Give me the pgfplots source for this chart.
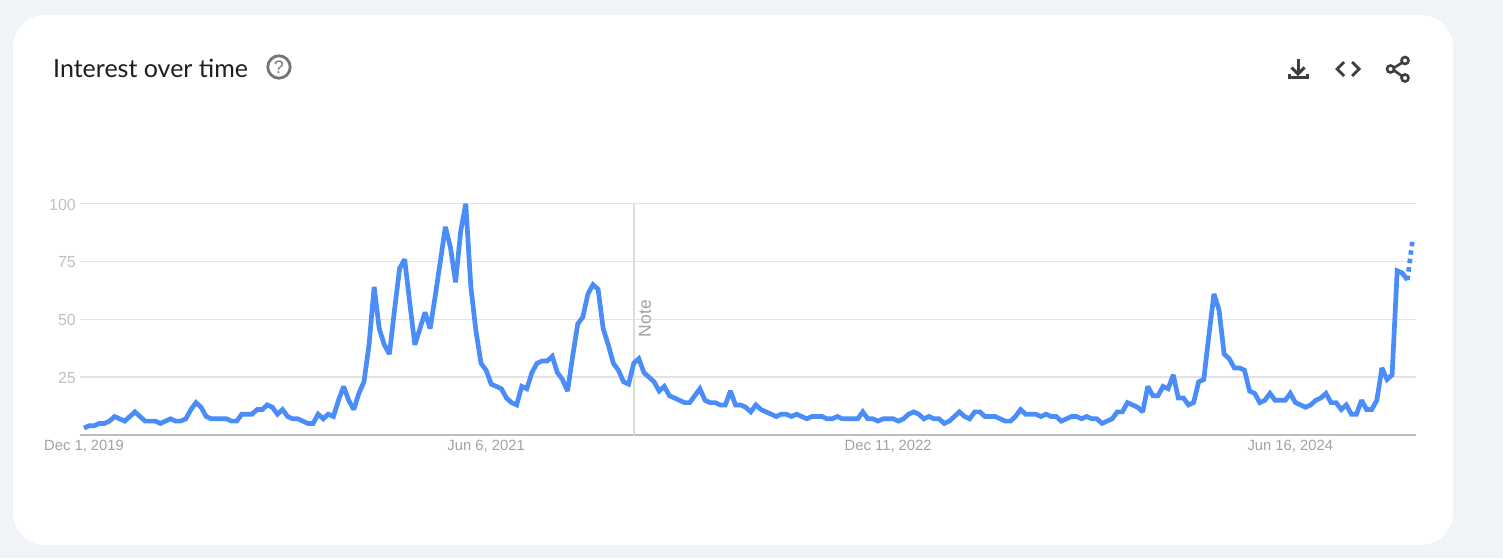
\documentclass[border=0pt]{standalone}
\usepackage{fontspec}
\setmainfont{Liberation Sans}
\newfontfamily\titlefont{Lato}
\usepackage{pgfplots}
\usepackage{pgfplotstable}
\pgfplotsset{compat=1.18}
\definecolor{pagebg}{HTML}{F0F4F9}
\definecolor{trend}{HTML}{4A8DF8}
\definecolor{gridc}{HTML}{E3E3E3}
\definecolor{basec}{HTML}{BDBDBD}
\definecolor{ylab}{HTML}{C4C1BC}
\definecolor{xlab}{HTML}{A5A29E}
\definecolor{icon}{HTML}{3C4043}
\definecolor{help}{HTML}{757575}
\pgfplotstableread{
i v
0 3
1 4
2 4
3 5
4 5
5 6
6 8
7 7
8 6
9 8
10 10
11 8
12 6
13 6
14 6
15 5
16 6
17 7
18 6
19 6
20 7
21 11
22 14
23 12
24 8
25 7
26 7
27 7
28 7
29 6
30 6
31 9
32 9
33 9
34 11
35 11
36 13
37 12
38 9
39 11
40 8
41 7
42 7
43 6
44 5
45 5
46 9
47 7
48 9
49 8
50 15
51 21
52 15
53 11
54 18
55 23
56 39
57 64
58 46
59 39
60 35
61 54
62 72
63 76
64 57
65 39
66 46
67 53
68 46
69 60
70 75
71 90
72 81
73 66
74 88
75 100
76 64
77 45
78 31
79 28
80 22
81 21
82 20
83 16
84 14
85 13
86 21
87 20
88 27
89 31
90 32
91 32
92 34
93 27
94 24
95 19
96 34
97 48
98 51
99 61
100 65
101 63
102 46
103 39
104 31
105 28
106 23
107 22
108 31
109 33
110 27
111 25
112 23
113 19
114 21
115 17
116 16
117 15
118 14
119 14
120 17
121 20
122 15
123 14
124 14
125 13
126 13
127 19
128 13
129 13
130 12
131 10
132 13
133 11
134 10
135 9
136 8
137 9
138 9
139 8
140 9
141 8
142 7
143 8
144 8
145 8
146 7
147 7
148 8
149 7
150 7
151 7
152 7
153 10
154 7
155 7
156 6
157 7
158 7
159 7
160 6
161 7
162 9
163 10
164 9
165 7
166 8
167 7
168 7
169 5
170 6
171 8
172 10
173 8
174 7
175 10
176 10
177 8
178 8
179 8
180 7
181 6
182 6
183 8
184 11
185 9
186 9
187 9
188 8
189 9
190 8
191 8
192 6
193 7
194 8
195 8
196 7
197 8
198 7
199 7
200 5
201 6
202 7
203 10
204 10
205 14
206 13
207 12
208 10
209 21
210 17
211 17
212 21
213 20
214 26
215 16
216 16
217 13
218 14
219 23
220 24
221 43
222 61
223 54
224 35
225 33
226 29
227 29
228 28
229 19
230 18
231 14
232 15
233 18
234 15
235 15
236 15
237 18
238 14
239 13
240 12
241 13
242 15
243 16
244 18
245 14
246 14
247 11
248 13
249 9
250 9
251 15
252 11
253 11
254 15
255 29
256 24
257 26
258 71
259 70
260 67
}\trenddata
\pgfplotstableread{
i v
260 67
261 84
}\partialdata
\begin{document}
\begin{tikzpicture}[x=1pt,y=1pt]
\path[fill=pagebg] (0,0) rectangle (1503,558);
\path[fill=white,rounded corners=32pt] (13,13) rectangle (1453,543);
\node[anchor=base west,inner sep=0,font=\titlefont\fontsize{25}{25}\selectfont,text=black!88] at (53,480) {Interest over time};
% help icon
\draw[help,line width=2.8pt] (279,491) circle (11.2);
\node[font=\fontsize{18}{18}\selectfont,text=help] at (279,491) {?};
% download icon
\draw[icon,line width=3pt] (1298,499) -- (1298,485);
\draw[icon,line width=3pt] (1291.5,490.5) -- (1298,484) -- (1304.5,490.5);
\draw[icon,line width=3pt] (1289,484) -- (1289,480) -- (1307,480) -- (1307,484);
% code icon
\draw[icon,line width=2.8pt] (1344,496) -- (1337,489) -- (1344,482);
\draw[icon,line width=2.8pt] (1352,496) -- (1359,489) -- (1352,482);
% share icon
\draw[icon,line width=2.6pt] (1392,489) -- (1404,496.5) (1392,489) -- (1404,480.5);
\draw[icon,line width=2.6pt,fill=white] (1390.5,489) circle (3.5) (1405,497.5) circle (3.5) (1405,480) circle (3.5);
\begin{axis}[
  at={(80pt,123pt)},anchor=south west,
  scale only axis,width=1336pt,height=231.3pt,
  xmin=-0.79,xmax=261.7,ymin=0,ymax=100,
  clip=false,
  axis lines*=left,
  y axis line style={draw=none},
  x axis line style={draw=basec,line width=1.8pt,-},
  ymajorgrids,
  grid style={draw=gridc,line width=1.4pt},
  major tick length=0pt,
  ytick={25,50,75,100},
  xtick={0,79,158,237},
  xticklabels={{Dec 1, 2019},{Jun 6, 2021},{Dec 11, 2022},{Jun 16, 2024}},
  /pgf/number format/assume math mode=true,
  yticklabel style={font=\fontsize{16}{16}\selectfont,text=ylab,anchor=east,xshift=-1pt,yshift=-0.8pt,inner sep=3pt},
  xticklabel style={font=\fontsize{14.8}{14.8}\selectfont,text=xlab,anchor=center,yshift=-11pt,inner sep=0pt},
]
\addplot[draw=gridc!97!black,line width=1.6pt,forget plot] coordinates {(108,0) (108,100)};
\addplot[trend,line width=4.7pt,line join=miter,miter limit=2,no marks] table[x=i,y=v] {\trenddata};
\addplot[trend,line width=4.7pt,no marks,dash pattern=on 4.5pt off 4pt] table[x=i,y=v] {\partialdata};
\node[rotate=90,font=\fontsize{17.5}{17.5}\selectfont,text=xlab,inner sep=0] at (axis cs:110.2,50.3) {Note};
\end{axis}
\end{tikzpicture}
\end{document}
